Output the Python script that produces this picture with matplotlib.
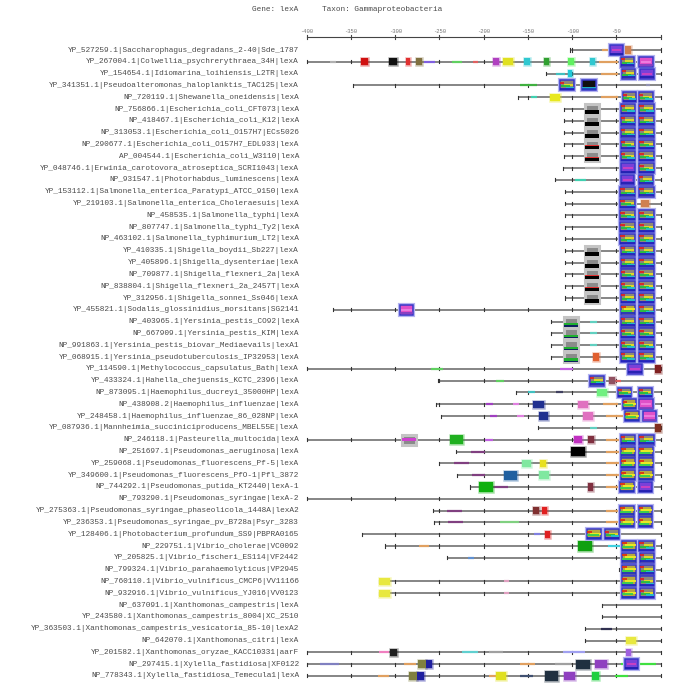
import matplotlib
matplotlib.use('Agg')
import matplotlib.pyplot as plt
from matplotlib.patches import Rectangle

names = [
    'YP_527259.1|Saccharophagus_degradans_2-40|Sde_1787',
    'YP_267004.1|Colwellia_psychrerythraea_34H|lexA',
    'YP_154654.1|Idiomarina_loihiensis_L2TR|lexA',
    'YP_341351.1|Pseudoalteromonas_haloplanktis_TAC125|lexA',
    'NP_720119.1|Shewanella_oneidensis|lexA',
    'NP_756866.1|Escherichia_coli_CFT073|lexA',
    'NP_418467.1|Escherichia_coli_K12|lexA',
    'NP_313053.1|Escherichia_coli_O157H7|ECs5026',
    'NP_290677.1|Escherichia_coli_O157H7_EDL933|lexA',
    'AP_004544.1|Escherichia_coli_W3110|lexA',
    'YP_048746.1|Erwinia_carotovora_atroseptica_SCRI1043|lexA',
    'NP_931547.1|Photorhabdus_luminescens|lexA',
    'YP_153112.1|Salmonella_enterica_Paratypi_ATCC_9150|lexA',
    'YP_219103.1|Salmonella_enterica_Choleraesuis|lexA',
    'NP_458535.1|Salmonella_typhi|lexA',
    'NP_807747.1|Salmonella_typhi_Ty2|lexA',
    'NP_463102.1|Salmonella_typhimurium_LT2|lexA',
    'YP_410335.1|Shigella_boydii_Sb227|lexA',
    'YP_405896.1|Shigella_dysenteriae|lexA',
    'NP_709877.1|Shigella_flexneri_2a|lexA',
    'NP_838804.1|Shigella_flexneri_2a_2457T|lexA',
    'YP_312956.1|Shigella_sonnei_Ss046|lexA',
    'YP_455821.1|Sodalis_glossinidius_morsitans|SG2141',
    'NP_403965.1|Yersinia_pestis_CO92|lexA',
    'NP_667909.1|Yersinia_pestis_KIM|lexA',
    'NP_991863.1|Yersinia_pestis_biovar_Mediaevails|lexA1',
    'YP_068915.1|Yersinia_pseudotuberculosis_IP32953|lexA',
    'YP_114590.1|Methylococcus_capsulatus_Bath|lexA',
    'YP_433324.1|Hahella_chejuensis_KCTC_2396|lexA',
    'NP_873095.1|Haemophilus_ducreyi_35000HP|lexA',
    'NP_438908.2|Haemophilus_influenzae|lexA',
    'YP_248458.1|Haemophilus_influenzae_86_028NP|lexA',
    'YP_087936.1|Mannheimia_succiniciproducens_MBEL55E|lexA',
    'NP_246118.1|Pasteurella_multocida|lexA',
    'NP_251697.1|Pseudomonas_aeruginosa|lexA',
    'YP_259068.1|Pseudomonas_fluorescens_Pf-5|lexA',
    'YP_349600.1|Pseudomonas_fluorescens_PfO-1|Pfl_3872',
    'NP_744292.1|Pseudomonas_putida_KT2440|lexA-1',
    'NP_793290.1|Pseudomonas_syringae|lexA-2',
    'YP_275363.1|Pseudomonas_syringae_phaseolicola_1448A|lexA2',
    'YP_236353.1|Pseudomonas_syringae_pv_B728a|Psyr_3283',
    'YP_128406.1|Photobacterium_profundum_SS9|PBPRA0165',
    'NP_229751.1|Vibrio_cholerae|VC0092',
    'YP_205825.1|Vibrio_fischeri_ES114|VF2442',
    'NP_799324.1|Vibrio_parahaemolyticus|VP2945',
    'NP_760110.1|Vibrio_vulnificus_CMCP6|VV11166',
    'NP_932916.1|Vibrio_vulnificus_YJ016|VV0123',
    'NP_637091.1|Xanthomonas_campestris|lexA',
    'YP_243580.1|Xanthomonas_campestris_8004|XC_2510',
    'YP_363503.1|Xanthomonas_campestris_vesicatoria_85-10|lexA2',
    'NP_642070.1|Xanthomonas_citri|lexA',
    'YP_201582.1|Xanthomonas_oryzae_KACC10331|aarF',
    'NP_297415.1|Xylella_fastidiosa|XF0122',
    'NP_778343.1|Xylella_fastidiosa_Temecula1|lexA',
]

# upstream start of each promoter region (0 = gene start)
starts = [-102, -400, -130, -348, -161, -109, -109, -109, -109, -109,
          -110, -119, -108, -108, -108, -108, -108, -108, -108, -108,
          -108, -108, -370, -124, -124, -124, -124, -400, -252, -163,
          -254, -248, -139, -400, -231, -250, -230, -215, -400, -257,
          -256, -338, -311, -241, -47, -318, -318, -66, -66, -85,
          -85, -400, -400, -400]

axis_ticks = [-400, -350, -300, -250, -200, -150, -100, -50, 0]

# main LexA boxes: (row, from, to, style)
lexa_boxes = [
    (0, -57, -43, 'purple'),
    (1, -45, -30, 'mix'), (1, -24, -9, 'pink'),
    (2, -44, -29, 'mix'), (2, -23, -8, 'purple'),
    (3, -114, -98, 'mix'), (3, -89, -73, 'dark'),
    (4, -43, -28, 'mix'), (4, -24, -9, 'mix'),
    (5, -45, -29, 'mix'), (5, -24, -8, 'mix'),
    (6, -45, -29, 'mix'), (6, -24, -8, 'mix'),
    (7, -45, -29, 'mix'), (7, -24, -8, 'mix'),
    (8, -45, -29, 'mix'), (8, -24, -8, 'mix'),
    (9, -45, -29, 'mix'), (9, -24, -8, 'mix'),
    (10, -45, -29, 'purple'), (10, -24, -8, 'mix'),
    (11, -45, -30, 'purple'), (11, -24, -9, 'mix'),
    (12, -46, -29, 'mix'), (12, -24, -8, 'mix'),
    (13, -46, -29, 'mix'),
    (14, -46, -29, 'mix'), (14, -24, -8, 'mix'),
    (15, -46, -29, 'mix'), (15, -24, -8, 'mix'),
    (16, -46, -29, 'mix'), (16, -24, -8, 'mix'),
    (17, -45, -29, 'mix'), (17, -24, -8, 'mix'),
    (18, -45, -29, 'mix'), (18, -24, -8, 'mix'),
    (19, -45, -29, 'mix'), (19, -24, -8, 'mix'),
    (20, -45, -29, 'mix'), (20, -24, -8, 'mix'),
    (21, -45, -29, 'mix'), (21, -24, -8, 'mix'),
    (22, -295, -280, 'pink'), (22, -45, -29, 'mixy'), (22, -24, -8, 'mix'),
    (23, -45, -29, 'mix'), (23, -24, -8, 'mix'),
    (24, -45, -29, 'mix'), (24, -24, -8, 'mix'),
    (25, -45, -29, 'mix'), (25, -24, -8, 'mix'),
    (26, -45, -29, 'mix'), (26, -24, -8, 'mix'),
    (27, -37, -21, 'purple'),
    (28, -80, -64, 'mix'),
    (29, -48, -33, 'mix'), (29, -25, -10, 'mix'),
    (30, -43, -28, 'mixy'), (30, -24, -9, 'pink'),
    (31, -40, -25, 'mixy'), (31, -20, -5, 'pink'),
    (33, -45, -29, 'mix'), (33, -24, -8, 'mix'),
    (34, -45, -29, 'mixy'), (34, -25, -9, 'mixy'),
    (35, -45, -29, 'mixy'), (35, -25, -9, 'mixy'),
    (36, -45, -29, 'mixy'), (36, -25, -9, 'mixy'),
    (37, -46, -30, 'mixy'), (37, -25, -10, 'purple'),
    (39, -46, -30, 'mixy'), (39, -25, -10, 'mixy'),
    (40, -46, -30, 'mixy'), (40, -25, -10, 'mixy'),
    (41, -83, -67, 'mixy'), (41, -63, -47, 'mix'),
    (42, -44, -28, 'mixy'), (42, -24, -8, 'mix'),
    (43, -44, -28, 'mixy'), (43, -23, -8, 'mix'),
    (44, -44, -28, 'mixy'), (44, -23, -8, 'mix'),
    (45, -44, -28, 'mixy'), (45, -23, -8, 'mix'),
    (46, -44, -28, 'mixy'), (46, -23, -8, 'mix'),
    (52, -40, -26, 'purple'),
]

# gray boxes: (row, from, to, kind)
gray_boxes = [(r, -85, -70, 'ecoli') for r in [5, 6, 7, 8, 9, 17, 18, 19, 20, 21]]
gray_boxes += [(r, -109, -94, 'yers') for r in [23, 24, 25, 26]]
gray_boxes += [(33, -292, -277, 'past')]

# small solid motifs: (row, from, to, colour)
small_boxes = [
    (0, -40, -33, '#d08050'),
    (1, -339, -331, '#d01010'), (1, -307, -298, '#101010'), (1, -288, -283, '#e03030'),
    (1, -277, -270, '#807040'), (1, -190, -183, '#b040c0'), (1, -178, -167, '#e0e020'),
    (1, -154, -148, '#30c8d0'), (1, -132, -126, '#30a030'), (1, -105, -98, '#60f060'),
    (1, -80, -74, '#30c8d0'),
    (2, -105, -100, '#20c8d8'),
    (4, -125, -114, '#e8e820'),
    (13, -22, -13, '#d08050'),
    (26, -76, -70, '#e06030'),
    (27, -7, 0, '#802020'),
    (28, -58, -52, '#905060'),
    (29, -72, -61, '#70f080'),
    (30, -144, -132, '#203090'), (30, -93, -82, '#e070c0'),
    (31, -138, -127, '#203090'), (31, -88, -76, '#e070c0'),
    (32, -7, 0, '#803020'),
    (33, -238, -223, '#20b020'), (33, -98, -89, '#c030c0'), (33, -82, -75, '#803040'),
    (34, -101, -85, '#000000'),
    (35, -157, -146, '#80e8a0'), (35, -136, -130, '#e8e020'),
    (36, -177, -162, '#2060a0'), (36, -138, -126, '#80e8a0'),
    (37, -205, -190, '#10b010'), (37, -82, -77, '#803040'),
    (39, -144, -137, '#803030'), (39, -134, -128, '#e02020'),
    (41, -131, -125, '#e02020'),
    (42, -93, -78, '#10a010'),
    (45, -318, -306, '#e8e840'),
    (46, -318, -306, '#e8e840'),
    (50, -39, -28, '#e8e840'),
    (51, -306, -298, '#202020'), (51, -39, -34, '#a060e0'),
    (52, -274, -265, '#808040'), (52, -265, -258, '#2020a0'), (52, -96, -80, '#203040'),
    (52, -74, -61, '#9040c0'),
    (53, -284, -275, '#808040'), (53, -275, -268, '#2020a0'), (53, -186, -175, '#e0e020'),
    (53, -131, -116, '#203040'), (53, -109, -97, '#9040c0'), (53, -78, -70, '#20d040'),
]

# thin motifs drawn on the line: (row, from, to, colour)
thin_marks = [
    (0, -66, -57, '#e0a060'),
    (1, -374, -367, '#b0b0b0'), (1, -267, -255, '#8060e0'), (1, -236, -225, '#60d060'),
    (1, -212, -206, '#e06060'), (1, -70, -48, '#e0a060'),
    (2, -118, -108, '#40c0c0'), (2, -68, -48, '#e0a060'),
    (3, -159, -140, '#40b040'), (3, -17, -12, '#9090b0'),
    (4, -146, -140, '#40d0b0'), (4, -68, -48, '#e0a060'),
    (10, -85, -69, '#b0b0b0'),
    (11, -97, -84, '#40d0b0'),
    (23, -80, -72, '#60d0c0'), (24, -80, -72, '#60d0c0'), (25, -80, -72, '#60d0c0'),
    (27, -259, -246, '#60d060'), (27, -114, -99, '#c060e0'),
    (28, -186, -177, '#60d060'), (28, -52, -45, '#e06060'),
    (29, -150, -142, '#40c0c0'), (29, -118, -110, '#404060'),
    (30, -197, -189, '#a040c0'), (30, -167, -160, '#e080e0'), (30, -65, -48, '#e0a060'),
    (31, -193, -185, '#a040c0'), (31, -162, -154, '#e080e0'), (31, -62, -42, '#e0a060'),
    (32, -80, -72, '#60d0c0'),
    (33, -199, -190, '#c060e0'), (33, -62, -47, '#e0a060'),
    (34, -214, -199, '#804080'), (34, -62, -47, '#e0a060'),
    (35, -234, -217, '#804080'), (35, -62, -47, '#e0a060'),
    (36, -213, -199, '#804080'), (36, -62, -47, '#e0a060'),
    (37, -189, -173, '#804080'), (37, -62, -47, '#e0a060'),
    (39, -242, -225, '#804080'), (39, -62, -47, '#e0a060'),
    (40, -240, -223, '#804080'), (40, -182, -160, '#80d080'), (40, -62, -47, '#e0a060'),
    (41, -143, -136, '#8080e0'),
    (42, -273, -262, '#e0a060'), (42, -60, -44, '#40d0e0'),
    (43, -218, -211, '#6090d0'),
    (45, -177, -171, '#e0a0c0'), (46, -177, -171, '#e0a0c0'),
    (49, -67, -55, '#303050'),
    (51, -318, -307, '#f080c0'), (51, -225, -207, '#60d0d0'), (51, -194, -178, '#a0a0a0'),
    (51, -110, -86, '#a0a0f0'),
    (52, -385, -364, '#8080c0'), (52, -290, -276, '#e0a060'), (52, -159, -142, '#e0a060'),
    (52, -120, -101, '#a0a0a0'), (52, -45, -5, '#40e040'),
    (53, -320, -307, '#e0a060'), (53, -194, -181, '#e0a060'), (53, -159, -144, '#405070'),
    (53, -52, -37, '#40e040'),
]

lexa_styles = {
    'mix': ('#8e8878', [(-0.22, 0.0, 0.3, '#e02020'), (-0.05, 0.3, 0.95, '#e8e020'),
                        (0.08, 0.05, 0.7, '#20c040'), (0.18, 0.45, 1.0, '#20c0d0'),
                        (0.3, 0.0, 1.0, '#2020c0')]),
    'mixy': ('#b8a840', [(-0.22, 0.0, 0.35, '#e03010'), (-0.05, 0.2, 1.0, '#f0f020'),
                         (0.1, 0.0, 0.8, '#30d050'), (0.3, 0.0, 1.0, '#2030c0')]),
    'purple': ('#7a40d8', [(0.0, 0.15, 0.85, '#d040c0'), (0.3, 0.0, 1.0, '#2020b0')]),
    'pink': ('#e050c8', [(0.0, 0.1, 0.9, '#f080e0'), (0.3, 0.0, 1.0, '#8040c0')]),
    'dark': ('#101010', [(0.22, 0.0, 1.0, '#20c0d0'), (0.32, 0.0, 1.0, '#2040c0')]),
}

gray_styles = {
    'ecoli': [(0.12, 0.42, '#000000'), (0.08, 0.12, '#e03030')],
    'yers': [(0.12, 0.3, '#20b030'), (0.3, 0.42, '#102060')],
    'past': [(-0.12, 0.12, '#d040d0')],
}

fig = plt.figure(figsize=(6.85, 6.94), dpi=100)
ax = fig.add_axes([0, 0, 1, 1])
px = 0.885  # pixels per base
ax.set_xlim(-400 - 306.7 / px, (685 - 660.7) / px)
ax.set_ylim(644 / 11.81, -50 / 11.81)
ax.axis('off')

mono = 'Liberation Mono'
txt = '#4a4a4a'
h = 0.84

# header and scale
ax.text(-436, -3.45, 'Gene: lexA', family=mono, fontsize=5.6, color=txt, ha='center', va='center')
ax.text(-315, -3.45, 'Taxon: Gammaproteobacteria', family=mono, fontsize=5.6, color=txt,
        ha='center', va='center')
ax.plot([axis_ticks[0], axis_ticks[-1]], [-1.13, -1.13], color='#444444', lw=0.8)
for t in axis_ticks:
    ax.plot([t, t], [-1.3, -0.96], color='#444444', lw=0.8)
    if t != 0:
        ax.text(t, -1.58, str(t), family=mono, fontsize=4.0, color='#777777', ha='center', va='center')

# rows
for i, (name, s) in enumerate(zip(names, starts)):
    ax.text(-408.7, i, name, family=mono, fontsize=5.6, color=txt, ha='right', va='center')
    ax.plot([s, 0], [i, i], color='#7c7c7c', lw=1.3, zorder=1, solid_capstyle='butt')
    marks = [s] + [t for t in axis_ticks if t > s]
    for t in marks:
        ax.plot([t, t], [i - 0.13, i + 0.13], color='#333333', lw=0.8, zorder=2)

for r, a, b, c in thin_marks:
    ax.plot([a, b], [r, r], color=c, lw=1.6, zorder=2, solid_capstyle='butt')

for r, a, b, c in small_boxes:
    hh = 0.62 if b - a < 14 else 0.78
    ax.add_patch(Rectangle((a, r - hh / 2), b - a, hh, fc=c, ec=c, lw=1.8, alpha=0.35, zorder=3))
    ax.add_patch(Rectangle((a, r - hh / 2), b - a, hh, fc=c, ec='none', zorder=4))

for r, a, b, k in gray_boxes:
    ax.add_patch(Rectangle((a, r - h / 2), b - a, h, fc='#8a8a8a', ec='#c4c4c4', lw=2.2, zorder=3))
    for y0, y1, c in gray_styles[k]:
        ax.add_patch(Rectangle((a, r + y0), b - a, y1 - y0, fc=c, ec='none', zorder=4))

for r, a, b, st in lexa_boxes:
    fill, stripes = lexa_styles[st]
    ax.add_patch(Rectangle((a, r - h / 2), b - a, h, fc=fill, ec='#b4b4f0', lw=3.0, zorder=3))
    ax.add_patch(Rectangle((a, r - h / 2), b - a, h, fc=fill, ec='#3838c8', lw=1.1, zorder=4))
    for dy, f0, f1, c in stripes:
        ax.plot([a + f0 * (b - a), a + f1 * (b - a)], [r + dy, r + dy], color=c, lw=1.3,
                zorder=5, solid_capstyle='butt')

fig.savefig('out.png', dpi=100)
